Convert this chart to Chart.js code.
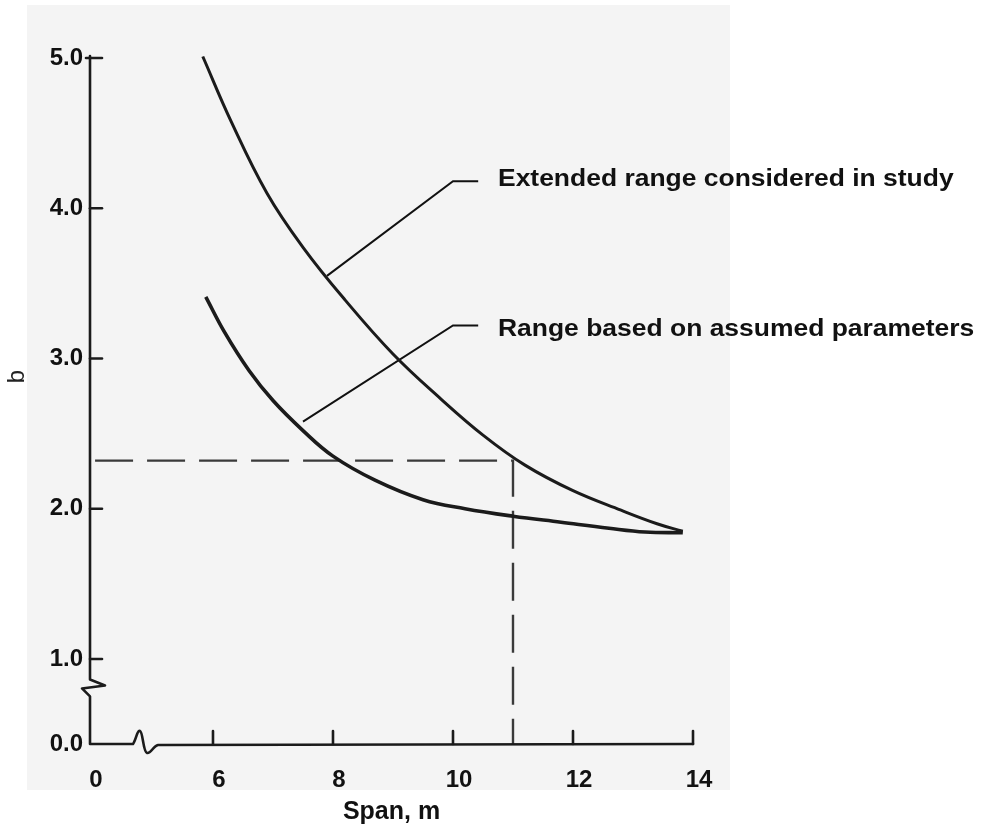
<!DOCTYPE html>
<html><head><meta charset="utf-8">
<script src="https://cdn.jsdelivr.net/npm/chart.js@4.4.1/dist/chart.umd.min.js"></script>
<style>html,body{margin:0;padding:0;background:#fff;}#wrap{width:983px;height:830px;position:relative;}</style>
</head><body><div id="wrap"><canvas id="c" width="983" height="830"></canvas></div>
<script>
// ---- data ----
const xTickValues = [0, 6, 8, 10, 12, 14];
const xTickLabels = ['0', '6', '8', '10', '12', '14'];
const yTickValues = [0, 1, 2, 3, 4, 5];
const yTickLabels = ['0.0', '1.0', '2.0', '3.0', '4.0', '5.0'];

const extendedSpan = [5.83, 6.3, 6.9, 7.5, 8.2, 9.0, 9.8, 10.5, 11.2, 12.0, 12.8, 13.4, 13.83];
const extendedB    = [5.01, 4.58, 4.10, 3.74, 3.39, 3.03, 2.73, 2.49, 2.29, 2.12, 1.99, 1.90, 1.85];
const assumedSpan  = [5.88, 6.2, 6.6, 7.0, 7.5, 8.0, 8.7, 9.5, 10.2, 11.0, 11.8, 12.6, 13.2, 13.83];
const assumedB     = [3.41, 3.17, 2.92, 2.72, 2.52, 2.35, 2.19, 2.06, 2.00, 1.95, 1.91, 1.87, 1.845, 1.84];

const guideSpan = [0.3, 11.0, 11.0];
const guideB    = [2.32, 2.32, 0];

const extendedLeaderSpan = [7.9, 10.0, 10.42];
const extendedLeaderB    = [3.55, 4.18, 4.18];
const assumedLeaderSpan  = [7.5, 10.0, 10.42];
const assumedLeaderB     = [2.58, 3.22, 3.22];

const annotationTexts = ['Extended range considered in study', 'Range based on assumed parameters'];
const annotationSpan  = [10.75, 10.75];
const annotationB     = [4.19, 3.19];

const xTitle = 'Span, m';
const yTitle = 'b';

// ---- broken-axis scale ----
class BrokenLinearScale extends Chart.LinearScale {
  static id = 'brokenLinear';
  _dec(value) {
    const v = this.options.breakValues, f = this.options.breakFractions;
    let i = 1;
    while (i < v.length - 1 && value > v[i]) i++;
    return f[i - 1] + (value - v[i - 1]) / (v[i] - v[i - 1]) * (f[i] - f[i - 1]);
  }
  getPixelForValue(value) {
    if (value === null || value === undefined || isNaN(value)) return NaN;
    return this.getPixelForDecimal(this._dec(value));
  }
  getValueForPixel(pixel) {
    const d = this.getDecimalForPixel(pixel);
    const v = this.options.breakValues, f = this.options.breakFractions;
    let i = 1;
    while (i < f.length - 1 && d > f[i]) i++;
    return v[i - 1] + (d - f[i - 1]) / (f[i] - f[i - 1]) * (v[i] - v[i - 1]);
  }
}
Chart.register(BrokenLinearScale);

const pts = (xs, ys) => xs.map((x, i) => ({x: x, y: ys[i]}));
const FONT = '"Liberation Sans", Arial, Helvetica, sans-serif';
const INK = '#1b1b1b';

const decor = {
  id: 'decor',
  beforeDraw(chart) {
    const ctx = chart.ctx;
    ctx.save();
    ctx.fillStyle = '#ffffff';
    ctx.fillRect(0, 0, chart.width, chart.height);
    ctx.fillStyle = '#f4f4f4';
    ctx.fillRect(27, 5, 703, 785);
    ctx.restore();
  },
  afterDatasetsDraw(chart) {
    const ctx = chart.ctx, xs = chart.scales.x, ys = chart.scales.y;
    const x0 = xs.getPixelForValue(0), y0 = ys.getPixelForValue(0);
    const yTop = ys.getPixelForValue(5) - 2;
    const xEnd = xs.getPixelForValue(14);
    const yb = ys.getPixelForValue(0.7);
    const xb = xs.getPixelForValue(2.9);
    ctx.save();
    ctx.strokeStyle = INK; ctx.lineWidth = 2.6; ctx.lineJoin = 'round'; ctx.lineCap = 'round';
    ctx.beginPath();
    ctx.moveTo(x0, yTop);
    ctx.lineTo(x0, yb - 5);
    ctx.lineTo(x0 + 15, yb + 1);
    ctx.lineTo(x0 - 8, yb + 4);
    ctx.lineTo(x0, yb + 12);
    ctx.lineTo(x0, y0);
    ctx.lineTo(xb - 6, y0);
    ctx.bezierCurveTo(xb - 3, y0 - 4, xb - 2, y0 - 14, xb + 1, y0 - 13);
    ctx.bezierCurveTo(xb + 4, y0 - 12, xb + 4, y0 + 8, xb + 8, y0 + 9);
    ctx.bezierCurveTo(xb + 12, y0 + 10, xb + 14, y0 + 2, xb + 19, y0 + 1);
    ctx.lineTo(xEnd, y0);
    ctx.stroke();
    // tick marks (inward)
    yTickValues.forEach(v => {
      if (v === 0) return;
      const p = ys.getPixelForValue(v);
      ctx.beginPath(); ctx.moveTo(v === 5 ? x0 - 4 : x0, p); ctx.lineTo(x0 + 12, p); ctx.stroke();
    });
    xTickValues.forEach(v => {
      if (v === 0) return;
      const p = xs.getPixelForValue(v);
      ctx.beginPath(); ctx.moveTo(p, y0); ctx.lineTo(p, y0 - 13); ctx.stroke();
    });
    // y title
    ctx.fillStyle = '#222';
    ctx.font = '24px ' + FONT;
    ctx.textAlign = 'center'; ctx.textBaseline = 'middle';
    ctx.translate(17, ys.getPixelForValue(2.88));
    ctx.rotate(-Math.PI / 2);
    ctx.fillText(yTitle, 0, 0);
    ctx.restore();
    // annotation texts (slightly wide lettering, as in the scanned original)
    annotationTexts.forEach((t, i) => {
      ctx.save();
      ctx.fillStyle = '#111';
      ctx.font = 'bold 23px ' + FONT;
      ctx.textAlign = 'left'; ctx.textBaseline = 'middle';
      ctx.translate(xs.getPixelForValue(annotationSpan[i]), ys.getPixelForValue(annotationB[i]));
      ctx.scale(1.15, 1);
      ctx.fillText(t, 0, 0);
      ctx.restore();
    });
  }
};

const lineDs = (data, w, extra) => Object.assign({
  data: data, showLine: true, pointRadius: 0, borderColor: INK, borderWidth: w,
  fill: false, clip: false, tension: 0
}, extra || {});

new Chart(document.getElementById('c'), {
  type: 'scatter',
  data: {
    datasets: [
      lineDs(pts(extendedSpan, extendedB), 3, {label: 'Extended range considered in study', tension: 0.4}),
      lineDs(pts(assumedSpan, assumedB), 3.6, {label: 'Range based on assumed parameters', tension: 0.4}),
      lineDs(pts(guideSpan, guideB), 2.4, {label: 'guide', borderColor: '#3a3a3a', borderDash: [38, 14]}),
      lineDs(pts(extendedLeaderSpan, extendedLeaderB), 2, {label: 'leader1', borderColor: '#111'}),
      lineDs(pts(assumedLeaderSpan, assumedLeaderB), 2, {label: 'leader2', borderColor: '#111'})
    ]
  },
  options: {
    responsive: false, animation: false, devicePixelRatio: 1,
    layout: {padding: {left: 0, right: 290, top: 58, bottom: 0}},
    plugins: {legend: {display: false}, tooltip: {enabled: false}},
    scales: {
      x: {
        type: 'brokenLinear', min: 0, max: 14,
        breakValues: [0, 5.5, 14], breakFractions: [0, 0.1542, 1],
        grid: {display: false, drawTicks: false}, border: {display: false},
        afterBuildTicks: s => { s.ticks = xTickValues.map(v => ({value: v})); },
        afterFit: s => { s.height = 86; },
        ticks: {autoSkip: false, maxRotation: 0, padding: 22, labelOffset: 6, color: '#111',
          font: {family: FONT, size: 24, weight: 'bold'},
          callback: v => xTickLabels[xTickValues.indexOf(v)]},
        title: {display: true, text: xTitle, color: '#111', padding: {top: 0, bottom: 3},
          font: {family: FONT, size: 25, weight: 'bold'}}
      },
      y: {
        type: 'brokenLinear', min: 0, max: 5,
        breakValues: [0, 1, 5], breakFractions: [0, 0.124, 1],
        grid: {display: false, drawTicks: false}, border: {display: false},
        afterBuildTicks: s => { s.ticks = yTickValues.map(v => ({value: v})); },
        afterFit: s => { s.width = 90; },
        ticks: {autoSkip: false, padding: 7, color: '#111',
          font: {family: FONT, size: 24, weight: 'bold'},
          callback: v => yTickLabels[yTickValues.indexOf(v)]}
      }
    }
  },
  plugins: [decor]
});
</script></body></html>
